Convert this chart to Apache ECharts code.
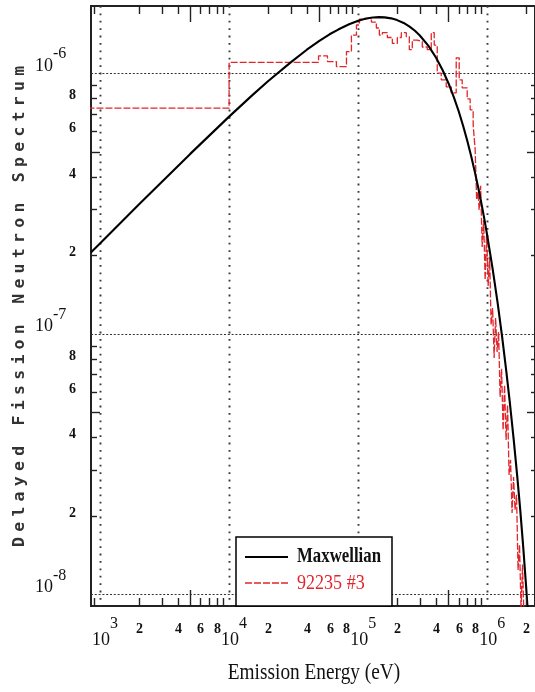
<!DOCTYPE html>
<html>
<head>
<meta charset="utf-8">
<script src="https://cdn.jsdelivr.net/npm/echarts@6/dist/echarts.min.js"></script>
<style>
  html, body { margin: 0; padding: 0; background: #fff; }
  #chart { width: 535px; height: 692px; }
</style>
</head>
<body>
<div id="chart"></div>
<script>
// ---- Maxwellian spectrum: energy (eV) and value ----
const maxwellEnergy = [850, 1e3, 2e3, 5e3, 1e4, 1.5e4, 2e4, 3e4, 4e4, 5e4, 6e4, 7e4, 8.5e4,
  1e5, 1.15e5, 1.3e5, 1.45e5, 1.6e5, 1.8e5, 2e5, 2.25e5, 2.5e5, 2.75e5, 3e5, 3.5e5, 4e5,
  4.5e5, 5e5, 5.5e5, 6e5, 6.5e5, 7e5, 7.5e5, 8e5, 8.5e5, 9e5, 9.5e5, 1e6, 1.1e6, 1.2e6,
  1.3e6, 1.4e6, 1.5e6, 1.6e6, 1.7e6, 1.8e6, 1.9e6, 2.0e6, 2.1e6];
const maxwellValue = [2.05e-7, 2.22e-7, 3.13e-7, 4.90e-7, 6.81e-7, 8.20e-7, 9.31e-7, 1.10e-6,
  1.23e-6, 1.33e-6, 1.41e-6, 1.47e-6, 1.54e-6, 1.59e-6, 1.62e-6, 1.634e-6, 1.640e-6, 1.637e-6,
  1.623e-6, 1.598e-6, 1.558e-6, 1.509e-6, 1.454e-6, 1.395e-6, 1.272e-6, 1.148e-6, 1.028e-6,
  9.15e-7, 8.09e-7, 7.14e-7, 6.27e-7, 5.49e-7, 4.80e-7, 4.18e-7, 3.64e-7, 3.16e-7, 2.74e-7,
  2.37e-7, 1.77e-7, 1.32e-7, 9.79e-8, 7.24e-8, 5.34e-8, 3.93e-8, 2.88e-8, 2.10e-8, 1.50e-8,
  1.06e-8, 7.4e-9];

// ---- 92235 #3 group spectrum: bin edges (eV) and bin values ----
const spectrumEdges = [800, 1.0e4, 4.93e4, 5.78e4, 6.78e4, 8.11e4, 8.86e4, 9.69e4, 1.022e5,
  1.117e5, 1.265e5, 1.382e5, 1.458e5, 1.538e5, 1.681e5, 1.838e5, 2.009e5, 2.157e5, 2.358e5,
  2.487e5, 2.624e5, 2.868e5, 3.135e5, 3.426e5, 3.679e5, 3.880e5, 4.093e5, 4.395e5, 4.804e5,
  5.252e5, 5.741e5, 6.055e5, 6.388e5, 6.983e5, 7.364e5, 7.768e5, 8.050e5, 8.267e5, 8.491e5,
  8.643e5, 8.877e5, 9.117e5, 9.364e5, 9.616e5, 9.876e5, 1.0143e6, 1.0418e6, 1.0699e6,
  1.0989e6, 1.1286e6, 1.1591e6, 1.1904e6, 1.2226e6, 1.2556e6, 1.2896e6, 1.3244e6, 1.3602e6,
  1.3970e6, 1.4348e6, 1.4736e6, 1.5134e6, 1.5543e6, 1.5964e6, 1.6395e6, 1.6839e6, 1.7294e6,
  1.7761e6, 1.8241e6, 1.8735e6, 1.9241e6, 1.9762e6, 2.0296e6];
const spectrumValues = [7.34e-7, 1.10e-6, 1.165e-6, 1.108e-6, 1.06e-6, 1.21e-6, 1.40e-6,
  1.53e-6, 1.61e-6, 1.63e-6, 1.57e-6, 1.49e-6, 1.40e-6, 1.43e-6, 1.37e-6, 1.30e-6, 1.37e-6,
  1.43e-6, 1.38e-6, 1.23e-6, 1.34e-6, 1.32e-6, 1.26e-6, 1.23e-6, 1.43e-6, 1.28e-6, 1.00e-6,
  9.43e-7, 8.86e-7, 8.40e-7, 1.145e-6, 9.43e-7, 8.78e-7, 7.96e-7, 7.23e-7, 6.33e-7, 5.08e-7,
  3.26e-7, 3.50e-7,
  2.987e-7, 3.693e-7, 2.154e-7, 2.734e-7, 1.609e-7, 2.438e-7, 1.526e-7, 1.972e-7, 1.081e-7,
  1.256e-7, 8.07e-8, 1.150e-7, 8.51e-8, 1.016e-7, 5.72e-8, 7.33e-8, 4.27e-8, 6.36e-8,
  3.91e-8, 5.33e-8, 2.87e-8, 3.28e-8, 2.05e-8, 2.82e-8, 2.11e-8, 2.41e-8, 1.24e-8, 1.55e-8,
  8.71e-9, 1.30e-8, 7.97e-9, 6.68e-9];

// ---- axis ranges and tick labels ----
const xRange = [852, 2.34e6];
const yRange = [9.02e-9, 1.81e-6];
const xTickDecades = [2, 3, 4, 5, 6];
const yTickDecades = [-9, -8, -7, -6];
const xMajorExps = [3, 4, 5, 6];
const yMajorExps = [-6, -7, -8];
const minorLabelDigits = [2, 4, 6, 8];
const seriesNames = ['Maxwellian', '92235 #3'];
const xTitle = 'Emission Energy (eV)';
const yTitle = 'Delayed Fission Neutron Spectrum';

const RED = '#e2252b';
const LABEL_FONT = '"Liberation Serif", "DejaVu Serif", serif';

const maxwellData = maxwellEnergy.map((e, i) => [e, maxwellValue[i]]);
const spectrumData = spectrumEdges.map((e, i) =>
  [e, spectrumValues[Math.min(i, spectrumValues.length - 1)]]);

const inX = v => v >= xRange[0] && v <= xRange[1];
const inY = v => v >= yRange[0] && v <= yRange[1];

function seg(x1, y1, x2, y2, style) {
  return { type: 'line', shape: { x1, y1, x2, y2 }, style };
}
function txt(x, y, text, font, align, vAlign) {
  return {
    type: 'text', x, y,
    style: { text, font: font + ' ' + LABEL_FONT, fill: '#111', align, verticalAlign: vAlign }
  };
}

// dotted decade grid
function renderGrid(params, api) {
  const cs = params.coordSys;
  const L = cs.x, T = cs.y, R = cs.x + cs.width, B = cs.y + cs.height;
  const out = [];
  xMajorExps.forEach(p => {
    const x = Math.round(api.coord([Math.pow(10, p), yRange[0]])[0]) + 0.5;
    out.push(seg(x, T, x, B, { stroke: '#3a3a3a', lineWidth: 1.9, lineDash: [1.8, 5.6] }));
  });
  yMajorExps.forEach(p => {
    const y = Math.round(api.coord([xRange[0], Math.pow(10, p)])[1]) + 0.5;
    out.push(seg(L, y, R, y, { stroke: '#333', lineWidth: 1.2, lineDash: [2, 1.8] }));
  });
  return { type: 'group', children: out };
}

// minor ticks and tick labels on all four sides
function renderTicks(params, api) {
  const cs = params.coordSys;
  const L = cs.x, T = cs.y, R = cs.x + cs.width, B = cs.y + cs.height;
  const tk = { stroke: '#222', lineWidth: 1.4 };
  const out = [];
  xTickDecades.forEach(d => {
    for (let m = 2; m <= 9; m++) {
      const v = m * Math.pow(10, d);
      if (!inX(v)) continue;
      const x = Math.round(api.coord([v, yRange[0]])[0]) + 0.5;
      const len = m === 5 ? 16 : 8;
      out.push(seg(x, B, x, B - len, tk));
      out.push(seg(x, T, x, T + len, tk));
      if (minorLabelDigits.indexOf(m) >= 0) {
        out.push(txt(x, 629, String(m), 'bold 14px', 'center', 'middle'));
      }
    }
  });
  yTickDecades.forEach(d => {
    for (let m = 2; m <= 9; m++) {
      const v = m * Math.pow(10, d);
      if (!inY(v)) continue;
      const y = Math.round(api.coord([xRange[0], v])[1]) + 0.5;
      const len = m === 5 ? 9 : 6;
      out.push(seg(L, y, L + len, y, tk));
      out.push(seg(R, y, R - (m === 5 ? 8 : 4), y, tk));
      if (minorLabelDigits.indexOf(m) >= 0) {
        out.push(txt(76, y - 3, String(m), 'bold 14px', 'right', 'middle'));
      }
    }
  });
  xMajorExps.forEach(p => {
    const x = api.coord([Math.pow(10, p), yRange[0]])[0];
    out.push(txt(x + 10, 640, '10', '18px', 'right', 'middle'));
    out.push(txt(x + 10, 624, String(p), '16px', 'left', 'middle'));
  });
  yMajorExps.forEach(p => {
    const y = api.coord([xRange[0], Math.pow(10, p)])[1];
    out.push(txt(53, y - 7, '10', '18px', 'right', 'middle'));
    out.push(txt(53, y - 19, '-' + Math.abs(p), '16px', 'left', 'middle'));
  });
  return { type: 'group', children: out };
}

const yTitleChars = yTitle.split('').map((c, i) => ({
  type: 'text', x: i * 15.2, y: 0,
  style: { text: c, font: 'bold 16.5px "DejaVu Sans Mono", "Liberation Mono", monospace',
           fill: '#333', align: 'left', verticalAlign: 'middle' }
}));

const chart = echarts.init(document.getElementById('chart'), null, { renderer: 'canvas' });
chart.setOption({
  animation: false,
  backgroundColor: '#fff',
  grid: {
    left: 91, top: 6, width: 445, height: 600,
    show: true, borderColor: '#222', borderWidth: 2, backgroundColor: 'transparent'
  },
  xAxis: {
    type: 'log', logBase: 10, min: xRange[0], max: xRange[1],
    axisLine: { show: false }, axisTick: { show: false },
    axisLabel: { show: false }, splitLine: { show: false }
  },
  yAxis: {
    type: 'log', logBase: 10, min: yRange[0], max: yRange[1],
    axisLine: { show: false }, axisTick: { show: false },
    axisLabel: { show: false }, splitLine: { show: false }
  },
  series: [
    {
      type: 'custom', name: 'grid', renderItem: renderGrid, data: [[0]],
      silent: true, z: 1
    },
    {
      type: 'line', name: seriesNames[1], data: spectrumData, step: 'end',
      showSymbol: false, clip: true, z: 3,
      lineStyle: { color: RED, width: 1.3, type: [7, 2] }
    },
    {
      type: 'line', name: seriesNames[0], data: maxwellData,
      showSymbol: false, clip: true, z: 4,
      lineStyle: { color: '#000', width: 2.1 }
    },
    {
      type: 'custom', name: 'ticks', renderItem: renderTicks, data: [[0]],
      silent: true, z: 5
    }
  ],
  graphic: [
    {
      type: 'group', x: 20, y: 547, rotation: Math.PI / 2, children: yTitleChars
    },
    {
      type: 'text', x: 314, y: 673, scaleX: 0.84,
      style: { text: xTitle, font: '23px ' + LABEL_FONT, fill: '#111',
               align: 'center', verticalAlign: 'middle' }
    },
    {
      type: 'rect', z: 100, shape: { x: 236, y: 537, width: 156, height: 69 },
      style: { fill: '#fff', stroke: '#000', lineWidth: 1.5 }
    },
    {
      type: 'line', z: 101, shape: { x1: 245, y1: 557, x2: 288, y2: 557 },
      style: { stroke: '#000', lineWidth: 2 }
    },
    {
      type: 'line', z: 101, shape: { x1: 245, y1: 583, x2: 288, y2: 583 },
      style: { stroke: RED, lineWidth: 1.3, lineDash: [7, 2] }
    },
    {
      type: 'text', z: 101, x: 297, y: 557, scaleX: 0.8,
      style: { text: seriesNames[0], font: 'bold 21px ' + LABEL_FONT, fill: '#111',
               align: 'left', verticalAlign: 'middle' }
    },
    {
      type: 'text', z: 101, x: 297, y: 583, scaleX: 0.86,
      style: { text: seriesNames[1], font: '21px ' + LABEL_FONT, fill: RED,
               align: 'left', verticalAlign: 'middle' }
    }
  ]
});
</script>
</body>
</html>
